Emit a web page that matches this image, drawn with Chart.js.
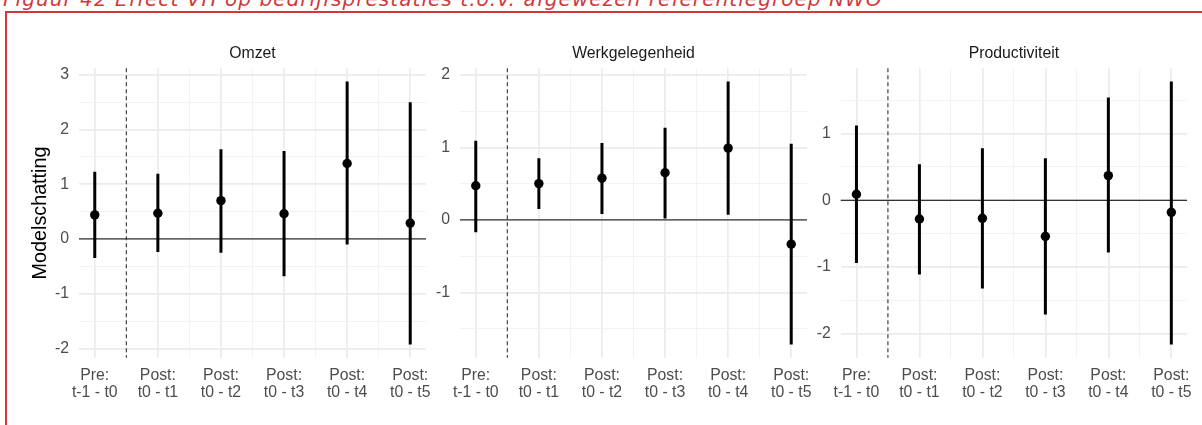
<!DOCTYPE html>
<html>
<head>
<meta charset="utf-8">
<script src="https://cdn.jsdelivr.net/npm/chart.js@4.4.1/dist/chart.umd.min.js"></script>
<style>
  html, body { margin: 0; padding: 0; background: #fff; width: 1202px; height: 425px; overflow: hidden; position: relative; }
  #caption { position: absolute; left: 3px; top: -13px; font: italic 20px "DejaVu Sans", sans-serif; font-weight: 200; color: #d0383c; white-space: nowrap; line-height: 24px; }
  #frame { position: absolute; left: 5px; top: 11px; width: 1210px; height: 430px; border-left: 2px solid #d0383c; border-top: 2px solid #d0383c; }
  canvas { position: absolute; top: 40px; }
</style>
</head>
<body>
<div id="caption">Figuur 42 Effect VH op bedrijfsprestaties t.o.v. afgewezen referentiegroep NWO</div>
<div id="frame"></div>
<canvas id="omzet" width="431" height="370" style="left:20px"></canvas>
<canvas id="werk" width="402" height="370" style="left:430px"></canvas>
<canvas id="prod" width="391" height="370" style="left:811px"></canvas>
<script>
// --- DATA ---
const categories = [
  ['Pre:', 't-1 - t0'],
  ['Post:', 't0 - t1'],
  ['Post:', 't0 - t2'],
  ['Post:', 't0 - t3'],
  ['Post:', 't0 - t4'],
  ['Post:', 't0 - t5']
];

// Omzet
const omzetEst  = [0.44, 0.47, 0.70, 0.46, 1.38, 0.29];
const omzetLow  = [-0.35, -0.24, -0.25, -0.68, -0.10, -1.93];
const omzetHigh = [1.23, 1.19, 1.64, 1.61, 2.88, 2.50];
const omzetTicks = [-2, -1, 0, 1, 2, 3];

// Werkgelegenheid
const werkEst  = [0.47, 0.50, 0.575, 0.65, 0.99, -0.335];
const werkLow  = [-0.17, 0.15, 0.08, 0.02, 0.07, -1.72];
const werkHigh = [1.09, 0.85, 1.06, 1.27, 1.91, 1.05];
const werkTicks = [-1, 0, 1, 2];

// Productiviteit
const prodEst  = [0.09, -0.28, -0.27, -0.54, 0.37, -0.18];
const prodLow  = [-0.94, -1.11, -1.32, -1.71, -0.78, -2.16];
const prodHigh = [1.12, 0.54, 0.78, 0.63, 1.54, 1.78];
const prodTicks = [-2, -1, 0, 1];

const refX = 1.5;  // scheiding pre / post
const refY = 0;

const FONT = '"Liberation Sans", Arial, sans-serif';

// caption runs from x=3 to about x=883 in the original
const caption = document.getElementById('caption');
const capW = caption.getBoundingClientRect().width;
caption.style.letterSpacing = ((880 - capW) / caption.textContent.length) + 'px';

// reference lines (y = 0 and dashed x = 1.5)
const refLines = {
  id: 'refLines',
  beforeDatasetsDraw(chart) {
    const { ctx, chartArea, scales } = chart;
    const y0 = scales.y.getPixelForValue(refY);
    const xd = scales.x.getPixelForValue(refX);
    ctx.save();
    ctx.strokeStyle = '#333';
    ctx.lineWidth = 1.3;
    ctx.beginPath();
    ctx.moveTo(chartArea.left, y0);
    ctx.lineTo(chartArea.right, y0);
    ctx.stroke();
    ctx.lineWidth = 1.1;
    ctx.setLineDash([4, 3]);
    ctx.beginPath();
    ctx.moveTo(xd, chartArea.top);
    ctx.lineTo(xd, chartArea.bottom);
    ctx.stroke();
    ctx.restore();
  }
};

function makePanel(id, title, est, low, high, majors, axisWidth, padRight, yTitle) {
  const lo = Math.min(...low), hi = Math.max(...high);
  const span = hi - lo;
  const yMin = lo - 0.05 * span, yMax = hi + 0.05 * span;
  const n = categories.length;
  const xMin = 1 - 0.05 * (n - 1), xMax = n + 0.05 * (n - 1);

  // major + minor (halfway) gridlines
  const yGrid = [];
  majors.forEach(t => { yGrid.push(t - 0.5, t, t + 0.5); });
  const yVals = [...new Set(yGrid)].filter(v => v >= yMin && v <= yMax).sort((a, b) => a - b);
  const xVals = [];
  for (let i = 1; i <= n; i++) { xVals.push(i); if (i < n) xVals.push(i + 0.5); }

  const bars = [];
  low.forEach((l, i) => {
    bars.push({ x: i + 1, y: l }, { x: i + 1, y: high[i] }, { x: i + 1, y: null });
  });
  const points = est.map((v, i) => ({ x: i + 1, y: v }));

  const gridColor = c => Number.isInteger(c.tick.value) ? '#ebebeb' : '#f2f2f2';
  const gridWidth = c => Number.isInteger(c.tick.value) ? 1.7 : 0.9;

  new Chart(document.getElementById(id), {
    type: 'line',
    data: {
      datasets: [
        { data: points, showLine: false, pointRadius: 4.7, pointBackgroundColor: '#000', pointBorderWidth: 0 },
        { data: bars, borderColor: '#000', borderWidth: 3, pointRadius: 0, spanGaps: false, borderCapStyle: 'butt' }
      ]
    },
    options: {
      responsive: false,
      animation: false,
      layout: { padding: { right: padRight } },
      plugins: {
        legend: { display: false },
        tooltip: { enabled: false },
        title: {
          display: true, text: title, fullSize: false, color: '#1a1a1a',
          font: { family: FONT, size: 15.8, weight: 'normal' },
          padding: { top: 3.8, bottom: 5.5 }
        }
      },
      scales: {
        x: {
          type: 'linear', min: xMin, max: xMax,
          afterBuildTicks: s => { s.ticks = xVals.map(v => ({ value: v })); },
          afterFit: s => { s.height = 52.3; },
          grid: { color: gridColor, lineWidth: gridWidth, drawTicks: false },
          border: { display: false },
          ticks: {
            autoSkip: false, maxRotation: 0, minRotation: 0, padding: 9.8,
            color: '#4d4d4d', font: { family: FONT, size: 15.8, lineHeight: 1.08 },
            callback: v => Number.isInteger(v) ? categories[v - 1] : ''
          }
        },
        y: {
          min: yMin, max: yMax,
          afterBuildTicks: s => { s.ticks = yVals.map(v => ({ value: v })); },
          afterFit: s => { s.width = axisWidth; },
          grid: { color: gridColor, lineWidth: gridWidth, drawTicks: false },
          border: { display: false },
          ticks: {
            padding: 10, color: '#4d4d4d', font: { family: FONT, size: 15.8 },
            callback: v => Number.isInteger(v) ? String(v) : ''
          },
          title: {
            display: !!yTitle, text: yTitle || '', color: '#000',
            font: { family: FONT, size: 19.75 }, padding: { top: 8.5, bottom: 0 }
          }
        }
      }
    },
    plugins: [refLines]
  });
}

makePanel('omzet', 'Omzet', omzetEst, omzetLow, omzetHigh, omzetTicks, 59, 25, 'Modelschatting');
makePanel('werk', 'Werkgelegenheid', werkEst, werkLow, werkHigh, werkTicks, 30, 25);
makePanel('prod', 'Productiviteit', prodEst, prodLow, prodHigh, prodTicks, 29.7, 14.3);
</script>
</body>
</html>
